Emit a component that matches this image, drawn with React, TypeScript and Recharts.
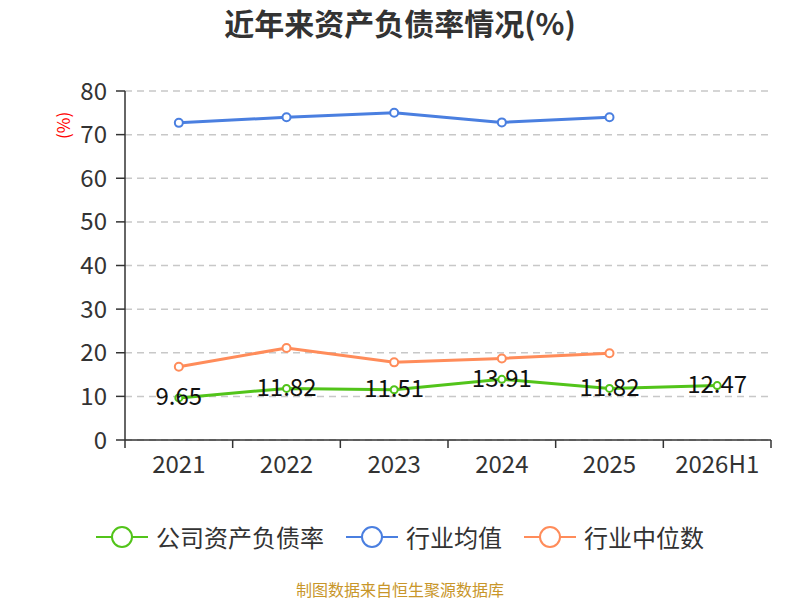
import { LineChart, Line, XAxis, YAxis, CartesianGrid, LabelList } from "recharts";

const years = ["2021", "2022", "2023", "2024", "2025", "2026H1"];
const companyRate = [9.65, 11.82, 11.51, 13.91, 11.82, 12.47];
const industryAvg = [72.7, 74.0, 75.0, 72.8, 74.0, null];
const industryMedian = [16.8, 21.1, 17.8, 18.7, 19.9, null];
const yTicks = [0, 10, 20, 30, 40, 50, 60, 70, 80];

const GREEN = "#52c41a";
const BLUE = "#4a7fe0";
const ORANGE = "#ff8c5a";
const FONT = '"Noto Sans CJK SC", "Noto Sans", sans-serif';
const X_TICK_SIZE = 8;
const X_TICK_MARGIN = 8;

const data = years.map((y, i) => ({
  year: y,
  company: companyRate[i],
  avg: industryAvg[i],
  median: industryMedian[i],
}));

const legendItems = [
  { name: "公司资产负债率", color: GREEN },
  { name: "行业均值", color: BLUE },
  { name: "行业中位数", color: ORANGE },
];

function ValueLabel(props: any) {
  const { x, y, value } = props;
  return (
    <text x={x} y={y - 3} textAnchor="middle" dominantBaseline="central" fontSize={24} fill="#111" fontFamily={FONT}>
      {value}
    </text>
  );
}

// category label at band centre, tick marks at the band edges
function YearTick(props: any) {
  const { x, y, payload, index, visibleTicksCount, width } = props;
  const count = visibleTicksCount || years.length;
  const half = width ? width / count / 2 : payload?.offset || 0;
  const y1 = y - X_TICK_SIZE - X_TICK_MARGIN;
  const y2 = y1 + X_TICK_SIZE;
  return (
    <g>
      <line x1={x - half} x2={x - half} y1={y1} y2={y2} stroke="#333" strokeWidth={1.5} />
      {index === count - 1 && <line x1={x + half} x2={x + half} y1={y1} y2={y2} stroke="#333" strokeWidth={1.5} />}
      <text x={x} y={y} dy="0.71em" textAnchor="middle" fontSize={24} fill="#333" fontFamily={FONT}>
        {payload.value}
      </text>
    </g>
  );
}

export default function App() {
  return (
    <div style={{ position: "relative", width: 800, height: 600, fontFamily: FONT, background: "#fff", overflow: "hidden" }}>
      <style>{"html,body{margin:0;padding:0;overflow:hidden}"}</style>
      <div style={{ position: "absolute", top: 3, left: 0, width: 800, textAlign: "center", fontSize: 30, lineHeight: "38px", fontWeight: "bold", color: "#333" }}>
        近年来资产负债率情况(%)
      </div>
      <div
        style={{
          position: "absolute",
          left: 51,
          top: 115,
          width: 24,
          height: 24,
          color: "red",
          fontSize: 17,
          transform: "rotate(-90deg)",
          lineHeight: "24px",
          textAlign: "center",
          whiteSpace: "nowrap",
        }}
      >
        (%)
      </div>
      <LineChart width={800} height={600} data={data} margin={{ top: 91, right: 29, bottom: 130, left: 0 }}>
        <CartesianGrid horizontal vertical={false} stroke="#c8c8c8" strokeDasharray="7 5" strokeWidth={1.5} />
        <XAxis
          dataKey="year"
          scale="band"
          height={30}
          tickLine={false}
          axisLine={{ stroke: "#333", strokeWidth: 1.5 }}
          tickSize={X_TICK_SIZE}
          tickMargin={X_TICK_MARGIN}
          tick={<YearTick />}
          interval={0}
        />
        <YAxis
          width={125}
          domain={[0, 80]}
          ticks={yTicks}
          interval={0}
          axisLine={{ stroke: "#333", strokeWidth: 1.5 }}
          tickLine={{ stroke: "#333", strokeWidth: 1.5 }}
          tickSize={9}
          tickMargin={9}
          tick={{ fill: "#333", fontSize: 24 }}
        />
        <Line
          dataKey="avg"
          stroke={BLUE}
          strokeWidth={3}
          dot={{ r: 4, fill: "#fff", stroke: BLUE, strokeWidth: 2 }}
          isAnimationActive={false}
        />
        <Line
          dataKey="median"
          stroke={ORANGE}
          strokeWidth={3}
          dot={{ r: 4, fill: "#fff", stroke: ORANGE, strokeWidth: 2 }}
          isAnimationActive={false}
        />
        <Line
          dataKey="company"
          stroke={GREEN}
          strokeWidth={3}
          dot={{ r: 3.5, fill: "#fff", stroke: GREEN, strokeWidth: 2 }}
          isAnimationActive={false}
        >
          <LabelList dataKey="company" content={<ValueLabel />} />
        </Line>
      </LineChart>
      <div style={{ position: "absolute", top: 521, left: 0, width: 800, display: "flex", justifyContent: "center", alignItems: "center" }}>
        {legendItems.map((it, i) => (
          <div key={it.name} style={{ display: "flex", alignItems: "center", marginLeft: i === 0 ? 0 : 22 }}>
            <svg width={52} height={26}>
              <line x1={0} y1={13} x2={52} y2={13} stroke={it.color} strokeWidth={2} />
              <circle cx={26} cy={13} r={10} fill="#fff" stroke={it.color} strokeWidth={2} />
            </svg>
            <span style={{ fontSize: 24, lineHeight: "32px", color: "#333", marginLeft: 8 }}>{it.name}</span>
          </div>
        ))}
      </div>
      <div style={{ position: "absolute", top: 579, left: 0, width: 800, textAlign: "center", fontSize: 16, lineHeight: "20px", color: "#c8962a" }}>
        制图数据来自恒生聚源数据库
      </div>
    </div>
  );
}
